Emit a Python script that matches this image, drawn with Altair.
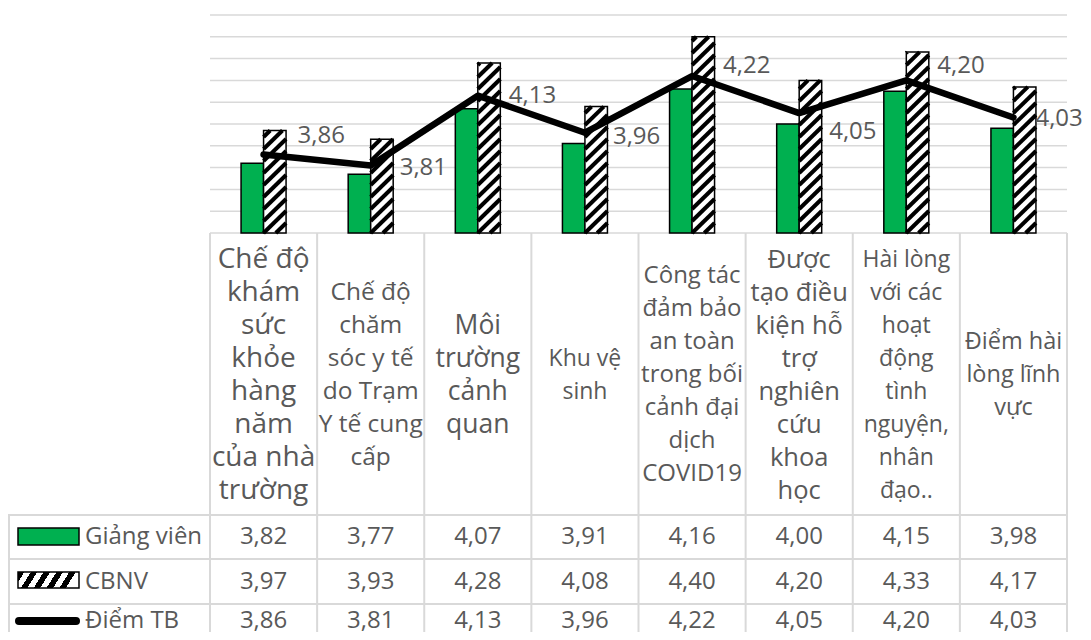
import altair as alt
import pandas as pd

FONT = "Open Sans"
TXT = "#595959"
GRID = "#d9d9d9"

# ---------------- data ----------------
categories = [
    "Chế độ\nkhám\nsức\nkhỏe\nhàng\nnăm\ncủa nhà\ntrường",
    "Chế độ\nchăm\nsóc y tế\ndo Trạm\nY tế cung\ncấp",
    "Môi\ntrường\ncảnh\nquan",
    "Khu vệ\nsinh",
    "Công tác\nđảm bảo\nan toàn\ntrong bối\ncảnh đại\ndịch\nCOVID19",
    "Được\ntạo điều\nkiện hỗ\ntrợ\nnghiên\ncứu\nkhoa\nhọc",
    "Hài lòng\nvới các\nhoạt\nđộng\ntình\nnguyện,\nnhân\nđạo..",
    "Điểm hài\nlòng lĩnh\nvực",
]
giang_vien = [3.82, 3.77, 4.07, 3.91, 4.16, 4.00, 4.15, 3.98]
cbnv = [3.97, 3.93, 4.28, 4.08, 4.40, 4.20, 4.33, 4.17]
diem_tb = [3.86, 3.81, 4.13, 3.96, 4.22, 4.05, 4.20, 4.03]
series_names = ["Giảng viên", "CBNV", "Điểm TB"]
y_ticks = [3.5, 3.6, 3.7, 3.8, 3.9, 4.0, 4.1, 4.2, 4.3, 4.4, 4.5]

# ---------------- styling ----------------
header_font_sizes = [28, 24.5, 26.5, 23, 24, 25.5, 23, 23.5]
label_dx = [34, 29, 31, 28, 31, 30, 31, 22]    # nudges of the "Điểm TB" labels, px
label_dy = [-19, 3, 0, 4, -10, 19, -14, 2]

W, H = 857, 218
Y_MIN, Y_MAX = 3.5, 4.5
N = len(categories)
PX_PER_UNIT = H / (Y_MAX - Y_MIN)
BAND = W / N
BW = 22.5 / BAND          # bar width in category units
P = 12 / PX_PER_UNIT      # hatch vertical period (data units)
D = 22 / PX_PER_UNIT      # hatch rise across a bar (data units)
LH = 33                   # header line height


def fmt(v):
    return f"{v:.2f}".replace(".", ",")


df = pd.DataFrame({
    "idx": list(range(N)),
    "cat": categories,
    "hfs": header_font_sizes,
    "ldx": label_dx,
    "ldy": label_dy,
    "gv": giang_vien,
    "cb": cbnv,
    "tb": diem_tb,
    "gv_l": [fmt(v) for v in giang_vien],
    "cb_l": [fmt(v) for v in cbnv],
    "tb_l": [fmt(v) for v in diem_tb],
})

xs = alt.Scale(domain=[-0.5, N - 0.5], nice=False, zero=False)
ys = alt.Scale(domain=[Y_MIN, Y_MAX], nice=False, zero=False)
base = alt.Chart(df)
one = alt.Chart(pd.DataFrame({"a": [0]}))

# gridlines
grid = alt.Chart(pd.DataFrame({"t": y_ticks})).mark_rule(color=GRID, strokeWidth=1.5).encode(
    y=alt.Y("t:Q", scale=ys, axis=None), x=alt.value(0), x2=alt.value(W))

# green bars
green = base.transform_calculate(xa=f"datum.idx - {BW}", xb="datum.idx", y0=str(Y_MIN)).mark_rect(
    fill="#00B050", stroke="black", strokeWidth=1.5).encode(
    x=alt.X("xa:Q", scale=xs, axis=None), x2="xb:Q",
    y=alt.Y("gv:Q", scale=ys, axis=None), y2="y0:Q")

cb_base = base.transform_calculate(xa="datum.idx", xb=f"datum.idx + {BW}", y0=str(Y_MIN))
cb_enc = dict(x=alt.X("xa:Q", scale=xs, axis=None), x2="xb:Q",
              y=alt.Y("cb:Q", scale=ys, axis=None), y2="y0:Q")
cb_fill = cb_base.mark_rect(fill="white").encode(**cb_enc)
cb_outline = cb_base.mark_rect(fill="white", fillOpacity=0, stroke="black", strokeWidth=1.5).encode(**cb_enc)

# hatch stripes for CBNV bars
hatch = (
    base.transform_calculate(k="sequence(-3, 24)")
    .transform_flatten(["k"])
    .transform_calculate(s=f"{Y_MIN} + datum.k * {P}")
    .transform_calculate(ys_=f"max(datum.s, {Y_MIN})")
    .transform_calculate(ye_=f"min(datum.s + {D}, datum.cb)")
    .transform_filter("datum.ye_ > datum.ys_")
    .transform_calculate(xs_=f"datum.idx + (datum.ys_ - datum.s) / {D} * {BW}")
    .transform_calculate(xe_=f"datum.idx + (datum.ye_ - datum.s) / {D} * {BW}")
    .mark_rule(color="black", strokeWidth=4)
    .encode(x=alt.X("xs_:Q", scale=xs, axis=None), x2="xe_:Q",
            y=alt.Y("ys_:Q", scale=ys, axis=None), y2="ye_:Q")
)

line = base.mark_line(color="black", strokeWidth=6.5, strokeJoin="round", strokeCap="round").encode(
    x=alt.X("idx:Q", scale=xs, axis=None), y=alt.Y("tb:Q", scale=ys, axis=None))

labels = base.transform_calculate(
    lx=f"datum.idx + datum.ldx / {BAND}",
    ly=f"datum.tb - datum.ldy / {PX_PER_UNIT}",
).mark_text(align="left", baseline="middle", font=FONT, fontSize=24, color=TXT).encode(
    x=alt.X("lx:Q", scale=xs, axis=None), y=alt.Y("ly:Q", scale=ys, axis=None), text="tb_l:N")

# ---------------- data table ----------------
row_y = [522, 566.5, 606]
value_layers = []
for field, yy in zip(["gv_l", "cb_l", "tb_l"], row_y):
    value_layers.append(base.mark_text(align="center", baseline="middle", font=FONT, fontSize=24,
                                       color=TXT).encode(
        x=alt.X("idx:Q", scale=xs, axis=None), y=alt.value(yy), text=f"{field}:N"))

bounds = pd.DataFrame({"b": [i - 0.5 for i in range(N + 1)]})
vlines = alt.Chart(bounds).mark_rule(color=GRID, strokeWidth=2).encode(
    x=alt.X("b:Q", scale=xs, axis=None), y=alt.value(H), y2=alt.value(640))

hlines = []
for yy in [500, 544, 589]:
    hlines.append(one.mark_rule(color=GRID, strokeWidth=2).encode(
        x=alt.value(-202), x2=alt.value(W), y=alt.value(yy)))
left_border = one.mark_rule(color=GRID, strokeWidth=2).encode(
    x=alt.value(-201), y=alt.value(500), y2=alt.value(640))

# legend keys
leg_green = one.mark_rect(fill="#00B050", stroke="black", strokeWidth=1.5).encode(
    x=alt.value(-192), x2=alt.value(-131), y=alt.value(513), y2=alt.value(530))

stops = []
per = 0.205
j = 0
while j * per < 1.2:
    a = j * per
    stops += [alt.GradientStop(offset=min(a, 1), color="black"),
              alt.GradientStop(offset=min(a + per * 0.5, 1), color="black"),
              alt.GradientStop(offset=min(a + per * 0.5, 1), color="white"),
              alt.GradientStop(offset=min(a + per, 1), color="white")]
    j += 1
hatch_grad = alt.LinearGradient(gradient="linear", stops=stops, x1=0, y1=0, x2=1, y2=0.164)
leg_hatch = one.mark_rect(fill=hatch_grad, stroke="black", strokeWidth=1.5).encode(
    x=alt.value(-192), x2=alt.value(-131), y=alt.value(557), y2=alt.value(573))
leg_line = one.mark_rule(color="black", strokeWidth=8, strokeCap="round").encode(
    x=alt.value(-191), x2=alt.value(-134), y=alt.value(row_y[2]))

leg_df = pd.DataFrame({"name": series_names, "r": [0, 1, 2]})
leg_text = []
for i, yy in enumerate(row_y):
    leg_text.append(alt.Chart(leg_df).transform_filter(f"datum.r == {i}").mark_text(
        align="left", baseline="middle", font=FONT, fontSize=24, color=TXT).encode(
        x=alt.value(-125), y=alt.value(yy), text="name:N"))

main = alt.layer(
    grid, green, cb_fill, hatch, cb_outline, line, labels,
    *value_layers, vlines, *hlines, left_border,
    leg_green, leg_hatch, leg_line, *leg_text,
)

# header cells: multi-line labels centred vertically in the header row
header = base.transform_calculate(
    nl="length(split(datum.cat, '\\n'))"
).transform_calculate(
    ty=f"360 - (datum.nl - 1) * {LH} / 2"
).mark_text(align="center", baseline="middle", lineBreak="\n", lineHeight=LH,
            font=FONT, color=TXT).encode(
    x=alt.X("idx:Q", scale=xs, axis=None),
    y=alt.Y("ty:Q", scale=None, axis=None),
    text="cat:N",
    size=alt.Size("hfs:Q", scale=None, legend=None))

chart = alt.layer(main, header).resolve_scale(y="independent").properties(
    width=W, height=H,
    autosize=alt.AutoSizeParams(type="none"),
    padding={"left": 202, "top": 7, "right": 16, "bottom": 399},
    background="white",
).configure_view(stroke=None)

chart.save("out.html", embed_options={"renderer": "svg", "actions": False})
